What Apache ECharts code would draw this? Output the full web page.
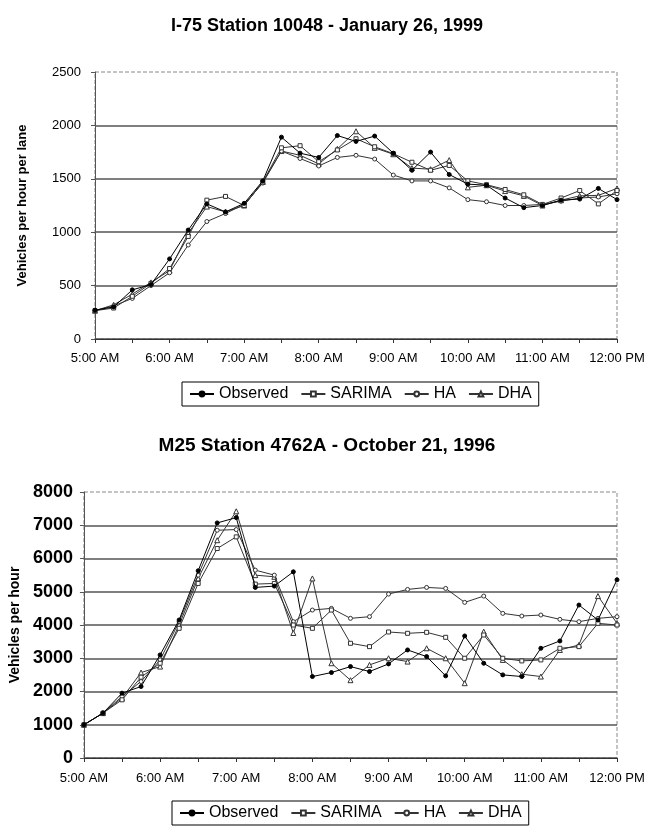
<!DOCTYPE html>
<html>
<head>
<meta charset="utf-8">
<script src="https://cdn.jsdelivr.net/npm/echarts@6/dist/echarts.min.js"></script>
<style>
html,body{margin:0;padding:0;background:#fff;}
#c{width:654px;height:826px;}
</style>
</head>
<body>
<div id="c"></div>
<script>
const times = ['5:00 AM','5:15 AM','5:30 AM','5:45 AM','6:00 AM','6:15 AM','6:30 AM','6:45 AM',
  '7:00 AM','7:15 AM','7:30 AM','7:45 AM','8:00 AM','8:15 AM','8:30 AM','8:45 AM',
  '9:00 AM','9:15 AM','9:30 AM','9:45 AM','10:00 AM','10:15 AM','10:30 AM','10:45 AM',
  '11:00 AM','11:15 AM','11:30 AM','11:45 AM','12:00 PM'];
const seriesNames = ['Observed','SARIMA','HA','DHA'];

// I-75 Station 10048 - January 26, 1999 (vehicles per hour per lane)
const i75Observed = [270,300,460,510,750,1020,1265,1190,1270,1480,1890,1740,1700,1905,1850,1900,1740,1580,1750,1540,1450,1440,1320,1230,1250,1300,1310,1410,1305];
const i75Sarima   = [265,290,400,520,660,960,1300,1335,1250,1470,1790,1810,1660,1770,1875,1800,1735,1655,1580,1625,1480,1445,1400,1350,1260,1320,1390,1265,1390];
const i75Ha       = [265,310,380,500,620,880,1100,1175,1260,1460,1760,1690,1620,1700,1720,1685,1535,1480,1480,1415,1305,1285,1250,1250,1260,1290,1320,1330,1360];
const i75Dha      = [265,320,420,530,640,990,1240,1190,1250,1470,1760,1720,1640,1780,1945,1790,1730,1600,1590,1675,1420,1440,1385,1340,1250,1300,1340,1345,1410];

// M25 Station 4762A - October 21, 1996 (vehicles per hour)
const m25Observed = [1000,1350,1950,2150,3100,4150,5630,7070,7230,5130,5170,5600,2450,2570,2750,2600,2830,3250,3050,2470,3670,2850,2500,2450,3300,3520,4600,4150,5360];
const m25Sarima   = [1000,1350,1750,2430,2850,3900,5250,6300,6650,5230,5250,4000,3900,4450,3450,3350,3790,3750,3780,3630,3000,3700,3000,2920,2950,3300,3350,4050,4000];
const m25Ha       = [1000,1350,1850,2300,2950,4100,5500,6850,6870,5650,5500,4100,4450,4500,4200,4250,4930,5070,5130,5100,4680,4870,4350,4270,4300,4170,4100,4200,4250];
const m25Dha      = [1000,1350,1800,2570,2750,4000,5400,6550,7420,5500,5450,3760,5400,2850,2340,2800,3000,2900,3300,3000,2250,3800,2950,2520,2450,3250,3400,4870,4050];

const FONT = 'Arial, "Liberation Sans", sans-serif';
const styles = [
  {symbol:'circle', size:4, fill:'#000', line:'#000'},
  {symbol:'rect', size:4, fill:'#fff', line:'#333'},
  {symbol:'circle', size:4, fill:'#fff', line:'#333'},
  {symbol:'triangle', size:5, fill:'#fff', line:'#333'}
];
function mkSeries(arrs, gi){
  return arrs.map((d,k)=>({
    name: seriesNames[k], type:'line', xAxisIndex:gi, yAxisIndex:gi, data:d,
    symbol: styles[k].symbol, symbolSize: styles[k].size, showSymbol:true,
    lineStyle:{color:styles[k].line, width:1},
    itemStyle:{color:styles[k].fill, borderColor:styles[k].line, borderWidth:1},
    emphasis:{disabled:true}, animation:false, z: 10 - k
  }));
}
function xAxis(gi, margin){
  return {type:'category', gridIndex:gi, data:times, boundaryGap:false,
    axisLine:{lineStyle:{color:'#333', width:1}},
    axisTick:{show:true, interval:1, length:4, lineStyle:{color:'#333'}},
    axisLabel:{interval:3, color:'#000', fontSize:13, fontFamily:FONT, margin:margin},
    splitLine:{show:false}};
}
function yAxis(gi, max, step, name, fs, fw, nameGap, nfs, margin){
  return {type:'value', gridIndex:gi, min:0, max:max, interval:step,
    name:name, nameLocation:'middle', nameGap:nameGap, nameRotate:90,
    nameTextStyle:{fontSize:nfs, fontWeight:'bold', color:'#000', fontFamily:FONT},
    axisLine:{show:true, lineStyle:{color:'#555', width:1}},
    axisTick:{show:true, length:4, lineStyle:{color:'#555'}},
    axisLabel:{color:'#000', fontSize:fs, fontWeight:fw, fontFamily:FONT, margin:margin,
      formatter:(v)=>String(v)},
    splitLine:{show:true, showMaxLine:false, lineStyle:{color:'#555', width:1.5}}};
}
const chart = echarts.init(document.getElementById('c'), null, {renderer:'canvas'});
const legendBase = {data:seriesNames.map(n=>({name:n})), orient:'horizontal',
  itemWidth:24, itemHeight:6, itemGap:12, padding:[4,7],
  borderColor:'#000', borderWidth:1,
  textStyle:{fontSize:16, color:'#000', fontFamily:FONT}, selectedMode:false};
chart.setOption({
  backgroundColor:'#fff',
  animation:false,
  title:[
    {text:'I-75 Station 10048 - January 26, 1999', left:'center', top:12,
     textStyle:{fontSize:18, fontWeight:'bold', color:'#000', fontFamily:FONT}},
    {text:'M25 Station 4762A - October 21, 1996', left:'center', top:431,
     textStyle:{fontSize:19, fontWeight:'bold', color:'#000', fontFamily:FONT}}
  ],
  legend:[
    Object.assign({left:182, top:382}, legendBase),
    Object.assign({left:172, top:801}, legendBase)
  ],
  grid:[
    {left:95, top:72, width:522, height:267, show:true, borderColor:'#888', borderWidth:1, borderType:'dashed', backgroundColor:'#fff'},
    {left:83, top:492, width:534, height:266, show:true, borderColor:'#888', borderWidth:1, borderType:'dashed', backgroundColor:'#fff'}
  ],
  xAxis:[xAxis(0,13), xAxis(1,14)],
  yAxis:[
    yAxis(0, 2500, 500, 'Vehicles per hour per lane', 13, 'normal', 66, 13, 14),
    yAxis(1, 8000, 1000, 'Vehicles per hour', 18, 'bold', 60, 14, 11)
  ],
  series:[].concat(
    mkSeries([i75Observed,i75Sarima,i75Ha,i75Dha],0),
    mkSeries([m25Observed,m25Sarima,m25Ha,m25Dha],1)
  )
});
</script>
</body>
</html>
